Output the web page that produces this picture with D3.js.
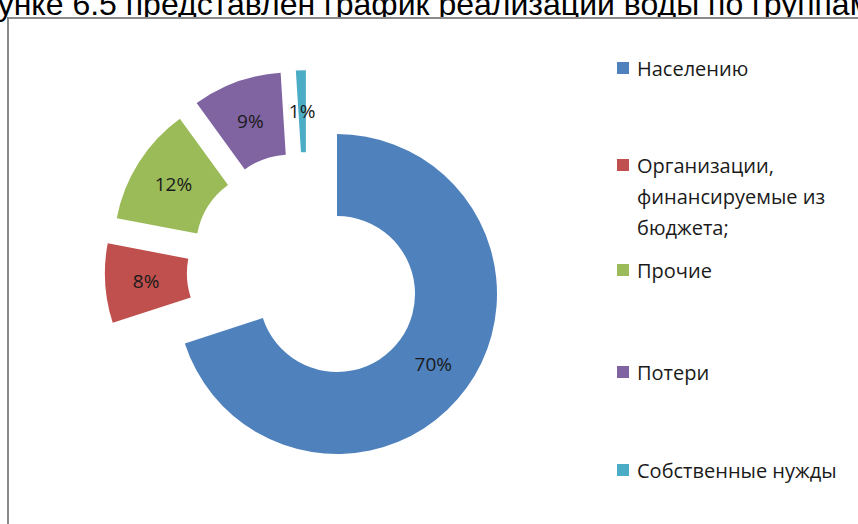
<!DOCTYPE html>
<html>
<head>
<meta charset="utf-8">
<script src="https://cdn.jsdelivr.net/npm/d3@7"></script>
<style>
  body { margin:0; background:#fff; }
  svg { display:block; }
</style>
</head>
<body>
<div id="chart"></div>
<script>
// data
var categories = ["Населению", "Организации, финансируемые из бюджета;", "Прочие", "Потери", "Собственные нужды"];
var legendLines = [["Населению"], ["Организации,", "финансируемые из", "бюджета;"], ["Прочие"], ["Потери"], ["Собственные нужды"]];
var values = [70, 8, 12, 9, 1];
var labels = ["70%", "8%", "12%", "9%", "1%"];
var colors = ["#4F81BD", "#C0504D", "#9BBB59", "#8064A2", "#4BACC6"];

// explosion of each slice: distance and direction (degrees clockwise from top)
var explodeDist = [0, 75, 78, 77, 71];
var explodeDir = [0, 286, 306, 323, 334];

var width = 858, height = 524;
var cx = 337, cy = 294,
    outerR = 160, innerR = 78;

var svg = d3.select("#chart")
    .append("svg")
        .attr("width", width)
        .attr("height", height);

// cut-off line of document text above the chart
svg.append("text")
    .attr("x", -54)
    .attr("y", 15)
    .attr("font-family", "Liberation Sans, Arial, sans-serif")
    .attr("font-size", "32px")
    .attr("fill", "#000")
    .text("рисунке 6.5 представлен график реализации воды по группам потребителей");

// chart frame (continues beyond the picture)
svg.append("rect")
    .attr("x", 8)
    .attr("y", 18)
    .attr("width", 900)
    .attr("height", 600)
    .attr("fill", "#fff")
    .attr("stroke", "#8a8a8a")
    .attr("stroke-width", 2);

var pie = d3.pie()
    .sort(null)
    .value(function(d){ return d; });

var arc = d3.arc()
    .innerRadius(innerR)
    .outerRadius(outerR);

var arcs = pie(values);

var g = svg.append("g")
    .attr("transform", "translate(" + cx + "," + cy + ")");

var slices = g.selectAll("g.slice")
    .data(arcs)
    .enter()
    .append("g")
        .attr("class", "slice")
        .attr("transform", function(d, i){
            var a = explodeDir[i] * Math.PI / 180;
            var dx = explodeDist[i] * Math.sin(a),
                dy = -explodeDist[i] * Math.cos(a);
            return "translate(" + dx + "," + dy + ")";
        });

slices.append("path")
    .attr("d", arc)
    .attr("fill", function(d, i){ return colors[i]; });

slices.append("text")
    .attr("transform", function(d){ return "translate(" + arc.centroid(d) + ")"; })
    .attr("text-anchor", "middle")
    .attr("dominant-baseline", "central")
    .attr("font-family", "Open Sans, sans-serif")
    .attr("font-size", "19px")
    .attr("fill", "#1a1a1a")
    .text(function(d, i){ return labels[i]; });

// legend
var legendY = [68, 165, 270, 372, 470];
var legend = svg.append("g")
    .attr("transform", "translate(617,0)");

var items = legend.selectAll("g.item")
    .data(categories)
    .enter()
    .append("g")
        .attr("class", "item")
        .attr("transform", function(d, i){ return "translate(0," + legendY[i] + ")"; });

items.append("rect")
    .attr("x", 0)
    .attr("y", -6)
    .attr("width", 12)
    .attr("height", 12)
    .attr("fill", function(d, i){ return colors[i]; });

items.each(function(d, i){
    var t = d3.select(this).append("text")
        .attr("x", 20)
        .attr("y", 0)
        .attr("font-family", "Open Sans, sans-serif")
        .attr("font-size", "20px")
        .attr("fill", "#1a1a1a")
        .attr("dominant-baseline", "central");
    legendLines[i].forEach(function(line, j){
        t.append("tspan")
            .attr("x", 20)
            .attr("dy", j === 0 ? 0 : 31)
            .text(line);
    });
});
</script>
</body>
</html>
